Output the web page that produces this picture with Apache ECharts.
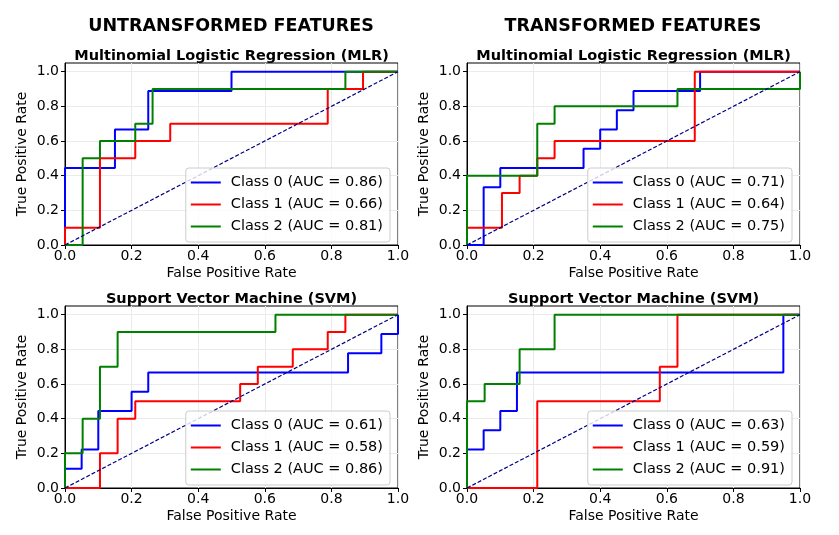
<!DOCTYPE html>
<html>
<head>
<meta charset="utf-8">
<script src="https://cdn.jsdelivr.net/npm/echarts@6/dist/echarts.min.js"></script>
<style>
  html, body { margin: 0; padding: 0; background: #fff; }
  #Echarts { width: 839px; height: 535px; }
</style>
</head>
<body>
<div id="Echarts"></div>
<script>
// ROC curves, points are [false positive rate, true positive rate]
var axisTicks = [0, 0.2, 0.4, 0.6, 0.8, 1.0];
var classColors = ['#0000ff', '#ff0000', '#008000'];

// untransformed, MLR
var rawMlrAuc = [0.86, 0.66, 0.81];
var rawMlr0 = [[0,0],[0,0.444],[0.15,0.444],[0.15,0.667],[0.25,0.667],[0.25,0.889],[0.5,0.889],[0.5,1],[1,1]];
var rawMlr1 = [[0,0],[0,0.1],[0.105,0.1],[0.105,0.5],[0.211,0.5],[0.211,0.6],[0.316,0.6],[0.316,0.7],[0.789,0.7],[0.789,0.9],[0.895,0.9],[0.895,1],[1,1]];
var rawMlr2 = [[0,0],[0.053,0],[0.053,0.5],[0.105,0.5],[0.105,0.6],[0.211,0.6],[0.211,0.7],[0.263,0.7],[0.263,0.9],[0.842,0.9],[0.842,1],[1,1]];

// transformed, MLR
var trMlrAuc = [0.71, 0.64, 0.75];
var trMlr0 = [[0,0],[0.05,0],[0.05,0.333],[0.1,0.333],[0.1,0.444],[0.35,0.444],[0.35,0.556],[0.4,0.556],[0.4,0.667],[0.45,0.667],[0.45,0.778],[0.5,0.778],[0.5,0.889],[0.7,0.889],[0.7,1],[1,1]];
var trMlr1 = [[0,0],[0,0.1],[0.105,0.1],[0.105,0.3],[0.158,0.3],[0.158,0.4],[0.211,0.4],[0.211,0.5],[0.263,0.5],[0.263,0.6],[0.684,0.6],[0.684,1],[1,1]];
var trMlr2 = [[0,0],[0,0.4],[0.211,0.4],[0.211,0.7],[0.263,0.7],[0.263,0.8],[0.632,0.8],[0.632,0.9],[1,0.9],[1,1]];

// untransformed, SVM
var rawSvmAuc = [0.61, 0.58, 0.86];
var rawSvm0 = [[0,0],[0,0.111],[0.05,0.111],[0.05,0.222],[0.1,0.222],[0.1,0.444],[0.2,0.444],[0.2,0.556],[0.25,0.556],[0.25,0.667],[0.85,0.667],[0.85,0.778],[0.95,0.778],[0.95,0.889],[1,0.889],[1,1]];
var rawSvm1 = [[0,0],[0.105,0],[0.105,0.2],[0.158,0.2],[0.158,0.4],[0.211,0.4],[0.211,0.5],[0.526,0.5],[0.526,0.6],[0.579,0.6],[0.579,0.7],[0.684,0.7],[0.684,0.8],[0.789,0.8],[0.789,0.9],[0.842,0.9],[0.842,1],[1,1]];
var rawSvm2 = [[0,0],[0,0.2],[0.053,0.2],[0.053,0.4],[0.105,0.4],[0.105,0.7],[0.158,0.7],[0.158,0.9],[0.632,0.9],[0.632,1],[1,1]];

// transformed, SVM
var trSvmAuc = [0.63, 0.59, 0.91];
var trSvm0 = [[0,0],[0,0.222],[0.05,0.222],[0.05,0.333],[0.1,0.333],[0.1,0.444],[0.15,0.444],[0.15,0.667],[0.95,0.667],[0.95,1],[1,1]];
var trSvm1 = [[0,0],[0.211,0],[0.211,0.5],[0.579,0.5],[0.579,0.7],[0.632,0.7],[0.632,1],[1,1]];
var trSvm2 = [[0,0],[0,0.5],[0.053,0.5],[0.053,0.6],[0.158,0.6],[0.158,0.8],[0.263,0.8],[0.263,1],[1,1]];

var chanceLine = [[0,0],[1,1]];

var panels = [
    { curves: [rawMlr0, rawMlr1, rawMlr2], auc: rawMlrAuc, left: 65,  top: 63,  title: 'Multinomial Logistic Regression (MLR)' },
    { curves: [trMlr0, trMlr1, trMlr2],    auc: trMlrAuc,  left: 467, top: 63,  title: 'Multinomial Logistic Regression (MLR)' },
    { curves: [rawSvm0, rawSvm1, rawSvm2], auc: rawSvmAuc, left: 65,  top: 306, title: 'Support Vector Machine (SVM)' },
    { curves: [trSvm0, trSvm1, trSvm2],    auc: trSvmAuc,  left: 467, top: 306, title: 'Support Vector Machine (SVM)' }
];

var myChart = echarts.init(document.getElementById('Echarts'));

var font = 'DejaVu Sans';
var plotW = 333, plotH = 182;

var grid = [], xAxis = [], yAxis = [], series = [], legend = [];
var title = [
    { text: 'UNTRANSFORMED FEATURES', left: 231, top: 17, textAlign: 'center', padding: 0,
      textStyle: { fontFamily: font, fontSize: 17.5, fontWeight: 'bold', color: '#000' } },
    { text: 'TRANSFORMED FEATURES', left: 633, top: 17, textAlign: 'center', padding: 0,
      textStyle: { fontFamily: font, fontSize: 17.5, fontWeight: 'bold', color: '#000' } }
];

panels.forEach(function (p, i) {
    grid.push({ left: p.left, top: p.top, width: plotW, height: plotH, show: true,
        borderColor: '#000', borderWidth: 1, backgroundColor: '#fff' });

    title.push({ text: p.title, left: p.left + plotW / 2, top: p.top - 14, textAlign: 'center', padding: 0,
        textStyle: { fontFamily: font, fontSize: 14.5, fontWeight: 'bold', color: '#000' } });

    xAxis.push({
        type: 'value', gridIndex: i, min: 0, max: 1, interval: 0.2,
        name: 'False Positive Rate', nameLocation: 'middle', nameGap: 21,
        nameTextStyle: { fontFamily: font, fontSize: 14, color: '#000' },
        axisLine: { show: true, lineStyle: { color: '#000', width: 1 } },
        axisTick: { show: true, length: 4, lineStyle: { color: '#000' } },
        axisLabel: { fontFamily: font, fontSize: 14, color: '#000', margin: 4,
            formatter: function (v) { return v.toFixed(1); } },
        splitLine: { show: true, lineStyle: { color: '#ebebeb', width: 1 } }
    });
    yAxis.push({
        type: 'value', gridIndex: i, min: 0, max: 1.05, interval: 0.2,
        name: 'True Positive Rate', nameLocation: 'middle', nameGap: 36,
        nameTextStyle: { fontFamily: font, fontSize: 14, color: '#000' },
        axisLine: { show: true, lineStyle: { color: '#000', width: 1 } },
        axisTick: { show: true, length: 4, lineStyle: { color: '#000' },
            customValues: axisTicks },
        axisLabel: { fontFamily: font, fontSize: 14, color: '#000', margin: 6,
            customValues: axisTicks,
            formatter: function (v) { return v.toFixed(1); } },
        splitLine: { show: true, lineStyle: { color: '#ebebeb', width: 1 } }
    });

    var names = [];
    p.curves.forEach(function (pts, k) {
        var name = 'Class ' + k + ' (AUC = ' + p.auc[k].toFixed(2) + ')';
        names.push(name);
        series.push({
            name: name, type: 'line', xAxisIndex: i, yAxisIndex: i,
            data: pts, symbol: 'none', clip: false, animation: false,
            lineStyle: { color: classColors[k], width: 2 },
            itemStyle: { color: classColors[k] }
        });
    });
    series.push({
        type: 'line', xAxisIndex: i, yAxisIndex: i, data: chanceLine,
        symbol: 'none', clip: false, animation: false, silent: true,
        lineStyle: { color: '#000080', width: 1.2, type: [4, 2] }
    });

    legend.push({
        data: names, orient: 'vertical', icon: 'rect',
        right: 839 - (p.left + plotW - 8), top: p.top + 105,
        itemWidth: 30, itemHeight: 2, itemGap: 7,
        padding: [7, 7, 8, 5],
        backgroundColor: 'rgba(255,255,255,0.8)', borderColor: '#cccccc', borderWidth: 1, borderRadius: 3,
        textStyle: { fontFamily: font, fontSize: 14.5, color: '#000', padding: [0, 0, 0, 5] },
        selectedMode: false
    });
});

var option = {
    backgroundColor: '#fff',
    animation: false,
    title: title,
    grid: grid,
    xAxis: xAxis,
    yAxis: yAxis,
    legend: legend,
    series: series
};

myChart.setOption(option);
</script>
</body>
</html>
